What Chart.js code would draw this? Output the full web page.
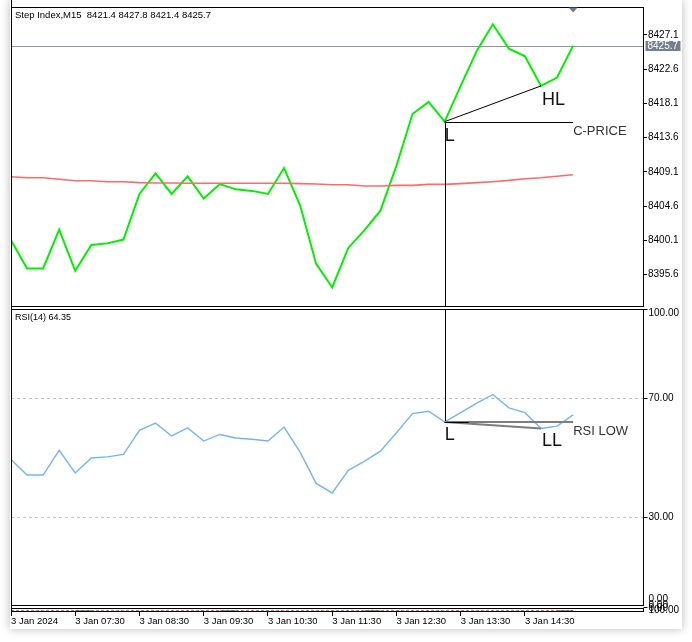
<!DOCTYPE html>
<html>
<head>
<meta charset="utf-8">
<script src="https://cdn.jsdelivr.net/npm/chart.js@4.4.1/dist/chart.umd.min.js"></script>
<style>
  html, body { margin: 0; padding: 0; background: #fff; }
  body { width: 692px; height: 642px; overflow: hidden; position: relative; }
  #frame { position: absolute; left: 10px; top: 0; width: 672px; height: 629px; background: #fff;
           box-shadow: 0 0 9px rgba(0, 0, 0, 0.28); }
  canvas { display: block; }
</style>
</head>
<body>
<div id="frame"><canvas id="mtChart" width="672" height="629"></canvas></div>
<script>
// M15 bars, 06:30 .. 15:15
const timeLabels = ['3 Jan 2024', '3 Jan 07:30', '3 Jan 08:30', '3 Jan 09:30', '3 Jan 10:30',
                    '3 Jan 11:30', '3 Jan 12:30', '3 Jan 13:30', '3 Jan 14:30'];
const timeTickBars = [0, 4, 8, 12, 16, 20, 24, 28, 32];

const closePrices = [8400.1, 8396.4, 8396.4, 8401.5, 8396.1, 8399.5, 8399.7, 8400.2, 8406.2, 8408.9,
                     8406.2, 8408.5, 8405.6, 8407.5, 8406.8, 8406.6, 8406.2, 8409.6, 8404.7, 8397.0,
                     8393.9, 8399.1, 8401.4, 8404.0, 8409.9, 8416.7, 8418.3, 8415.7, 8420.4, 8425.0,
                     8428.5, 8425.3, 8424.3, 8420.4, 8421.5, 8425.7];
const maValues = [8408.46, 8408.33, 8408.33, 8408.14, 8407.94, 8407.94, 8407.81, 8407.81, 8407.68, 8407.64,
                  8407.64, 8407.61, 8407.61, 8407.61, 8407.61, 8407.61, 8407.61, 8407.61, 8407.55, 8407.51,
                  8407.41, 8407.41, 8407.24, 8407.24, 8407.32, 8407.32, 8407.45, 8407.45, 8407.55, 8407.68,
                  8407.81, 8407.98, 8408.20, 8408.33, 8408.53, 8408.73];
const rsiValues = [49.4, 44.2, 44.2, 52.5, 44.9, 49.9, 50.3, 51.1, 59.2, 61.6,
                   57.3, 60.0, 55.6, 57.8, 56.6, 56.2, 55.6, 60.3, 51.9, 41.4,
                   38.2, 45.8, 48.8, 52.2, 58.4, 64.8, 65.6, 62.0, 65.1, 68.3,
                   71.2, 66.7, 65.1, 59.8, 60.6, 64.35];
// squashed third sub-window
const miniRed = [25, 25, 25, 25, 25, 25, 25, 25, 25, 25, 25, 25, 25, 25, 25, 25, 25, 25,
                 25, 25, 25, 25, 25, 25, 25, 25, 25, 25, 25, 25, 25, 25, 25, 25, 25, 25];
const miniTeal = [null, null, null, null, 25, 25, null, null, null, null, null, null, null, 25, 25, null, null, null,
                  null, null, null, null, 25, 25, null, null, null, null, null, null, null, null, null, null, 25, 25];
const miniGray = [75, 75, 75, 75, 75, 75, 75, 75, 75, 75, 75, 75, 75, 75, 75, 75, 75, 75,
                  75, 75, 75, 75, 75, 75, 75, 75, 75, 75, 75, 75, 75, 75, 75, 75, 75, 75];

const priceTicks = [8427.1, 8422.6, 8418.1, 8413.6, 8409.1, 8404.6, 8400.1, 8395.6];
const rsiTicks = [100, 70, 30, 0];
const rsiLevels = [70, 30];

const titleText = 'Step Index,M15  8421.4 8427.8 8421.4 8425.7';
const rsiTitle = 'RSI(14) 64.35';

// pattern anchors (bar indexes)
const lowBar = 27, higherLowBar = 33, lastBar = 35;

const FONT = '"Liberation Sans", Arial, sans-serif';
const half = v => Math.round(v) + 0.5;
const toPoints = arr => arr.map((v, i) => ({ x: i, y: v }));

function seg(ctx, x1, y1, x2, y2) {
  ctx.beginPath(); ctx.moveTo(x1, y1); ctx.lineTo(x2, y2); ctx.stroke();
}

const mtPanes = {
  id: 'mtPanes',
  beforeDraw(chart) {
    const ctx = chart.ctx;
    ctx.save();
    ctx.fillStyle = '#fff';
    ctx.fillRect(0, 0, chart.width, chart.height);
    ctx.restore();
  },
  beforeDatasetsDraw(chart) {
    const { ctx, chartArea } = chart;
    const yP = chart.scales.y, yR = chart.scales.rsi;
    ctx.save();
    ctx.lineWidth = 1;
    ctx.strokeStyle = '#c4c4c4';
    ctx.setLineDash([3, 3]);
    rsiLevels.forEach(v => {
      const py = half(yR.getPixelForValue(v));
      seg(ctx, chartArea.left, py, chartArea.right, py);
    });
    ctx.setLineDash([]);
    const cy = half(yP.getPixelForValue(closePrices[lastBar]));
    ctx.strokeStyle = '#8d959f';
    seg(ctx, chartArea.left, cy, chartArea.right, cy);
    ctx.restore();
  },
  afterDatasetsDraw(chart) {
    const { ctx, chartArea } = chart;
    const x = chart.scales.x, yP = chart.scales.y, yR = chart.scales.rsi, yZ = chart.scales.z;
    ctx.save();

    // price pane pattern
    const lx = x.getPixelForValue(lowBar), ly = yP.getPixelForValue(closePrices[lowBar]);
    const hx = x.getPixelForValue(higherLowBar), hy = yP.getPixelForValue(closePrices[higherLowBar]);
    const ex = x.getPixelForValue(lastBar);
    ctx.strokeStyle = '#000';
    ctx.lineWidth = 1;
    seg(ctx, lx, ly, hx, hy);
    seg(ctx, lx, half(ly), ex, half(ly));
    seg(ctx, half(lx), ly, half(lx), yP.bottom - 0.5);

    // rsi pane pattern
    const rly = yR.getPixelForValue(rsiValues[lowBar]);
    const rhy = yR.getPixelForValue(rsiValues[higherLowBar]);
    seg(ctx, half(lx), yR.top + 2.5, half(lx), rly);
    ctx.strokeStyle = '#7d7d7d';
    ctx.lineWidth = 2;
    seg(ctx, lx, rly, ex, rly);
    seg(ctx, lx, rly, hx, rhy);
    ctx.strokeStyle = '#000';
    ctx.lineWidth = 1;
    seg(ctx, lx, half(rly), x.getPixelForValue(lowBar + 1.5), half(rly));

    ctx.fillStyle = '#111';
    ctx.textBaseline = 'alphabetic';
    ctx.textAlign = 'left';
    ctx.font = '18px ' + FONT;
    ctx.fillText('L', lx, ly + 19);
    ctx.fillText('HL', hx + 1, hy + 19.5);
    ctx.fillText('L', lx, rly + 18.5);
    ctx.fillText('LL', hx + 1, rhy + 18);
    ctx.fillStyle = '#333';
    ctx.font = '13px ' + FONT;
    ctx.fillText('C-PRICE', ex, ly + 13);
    ctx.fillText('RSI LOW', ex, rly + 13.5);

    // pane frames
    const L = half(chartArea.left), R = half(chartArea.right);
    ctx.strokeStyle = '#000';
    ctx.lineWidth = 1;
    const frames = [
      [half(yP.top), half(yP.bottom - 1)],
      [half(yR.top + 2), half(yR.bottom - 2.5)],
      [half(yZ.top), half(yZ.bottom - 1)]
    ];
    frames.forEach(([t, b]) => ctx.strokeRect(L, t, R - L, b - t));
    seg(ctx, L, 0, L, half(yZ.bottom - 1));

    // titles
    ctx.fillStyle = '#000';
    ctx.font = '9.5px ' + FONT;
    ctx.fillText(titleText, chartArea.left + 4, 17.5);
    ctx.font = '9px ' + FONT;
    ctx.fillText(rsiTitle, chartArea.left + 4, yR.top + 13.5);

    // rsi axis labels
    ctx.font = '10px ' + FONT;
    ctx.textBaseline = 'middle';
    rsiTicks.forEach(v => {
      const py = yR.getPixelForValue(v);
      seg(ctx, R, half(py), R + 4, half(py));
      const cy = Math.min(Math.max(py, yR.top + 7), yR.bottom - 8.5);
      ctx.fillText(v.toFixed(2), R + 5, cy);
    });
    // squashed pane labels
    ctx.fillText('0.00', R + 5, yZ.top - 2.5);
    ctx.fillText('0.00', R + 5, yZ.top + 0.5);
    ctx.fillText('100.00', R + 5, yZ.bottom - 1.5);

    // current price tag
    const cy = yP.getPixelForValue(closePrices[lastBar]);
    ctx.fillStyle = '#74808d';
    ctx.fillRect(R + 2, Math.round(cy) - 5, 35, 10);
    ctx.fillStyle = '#fff';
    ctx.fillText(closePrices[lastBar].toFixed(1), R + 4, cy + 0.5);

    // shift marker
    ctx.fillStyle = '#6f7b8b';
    ctx.beginPath();
    ctx.moveTo(ex - 4.5, chartArea.top + 0.5);
    ctx.lineTo(ex + 4.5, chartArea.top + 0.5);
    ctx.lineTo(ex, chartArea.top + 5.5);
    ctx.closePath();
    ctx.fill();
    ctx.restore();
  }
};

const axisWidth = s => { s.width = 39; };

new Chart(document.getElementById('mtChart'), {
  type: 'line',
  data: {
    datasets: [
      { label: 'MA', data: toPoints(maValues), yAxisID: 'y', borderColor: '#ff6a6a', borderWidth: 1.6,
        pointRadius: 0, tension: 0 },
      { label: 'Close', data: toPoints(closePrices), yAxisID: 'y', borderColor: '#00f000', borderWidth: 2,
        pointRadius: 0, tension: 0 },
      { label: 'RSI', data: toPoints(rsiValues), yAxisID: 'rsi', borderColor: '#74b5f7', borderWidth: 1.4,
        pointRadius: 0, tension: 0 },
      { label: 'm1', data: toPoints(miniGray), yAxisID: 'z', borderColor: '#a8b4b4', borderWidth: 1,
        borderDash: [2, 2], pointRadius: 0 },
      { label: 'm2', data: toPoints(miniRed), yAxisID: 'z', borderColor: '#e23a3a', borderWidth: 1.5,
        borderDash: [3, 2], pointRadius: 0 },
      { label: 'm3', data: toPoints(miniTeal), yAxisID: 'z', borderColor: '#1f9a9a', borderWidth: 1.5,
        pointRadius: 0, spanGaps: false }
    ]
  },
  options: {
    responsive: false,
    animation: false,
    devicePixelRatio: 1,
    layout: { padding: { left: 1, top: 6, right: 0, bottom: 0 } },
    plugins: { legend: { display: false }, tooltip: { enabled: false } },
    scales: {
      x: {
        type: 'linear', position: 'bottom', min: 0, max: 39.35,
        afterBuildTicks: s => { s.ticks = timeTickBars.map(v => ({ value: v })); },
        afterFit: s => { s.height = 17; },
        ticks: {
          autoSkip: false, maxRotation: 0, align: 'start', padding: 0, color: '#000',
          font: { family: FONT, size: 9.5 },
          callback: (v, i) => timeLabels[i]
        },
        grid: { drawOnChartArea: false, drawTicks: true, tickLength: 4, color: '#000' },
        border: { display: false }
      },
      y: {
        position: 'right', stack: 'panes', stackWeight: 300, weight: 0,
        min: 8391.40, max: 8430.775,
        afterBuildTicks: s => { s.ticks = priceTicks.map(v => ({ value: v })); },
        afterFit: axisWidth,
        ticks: { color: '#000', padding: 1, font: { family: FONT, size: 10 }, callback: v => v.toFixed(1) },
        grid: { drawOnChartArea: false, drawTicks: true, tickLength: 4, color: '#000' },
        border: { display: false }
      },
      rsi: {
        position: 'right', stack: 'panes', stackWeight: 301.5, weight: 1,
        min: -0.17, max: 100.67,
        afterFit: axisWidth,
        ticks: { display: false },
        grid: { display: false },
        border: { display: false }
      },
      z: {
        position: 'right', stack: 'panes', stackWeight: 4.5, weight: 2,
        min: 0, max: 100,
        afterFit: axisWidth,
        ticks: { display: false },
        grid: { display: false },
        border: { display: false }
      }
    }
  },
  plugins: [mtPanes]
});
</script>
</body>
</html>
